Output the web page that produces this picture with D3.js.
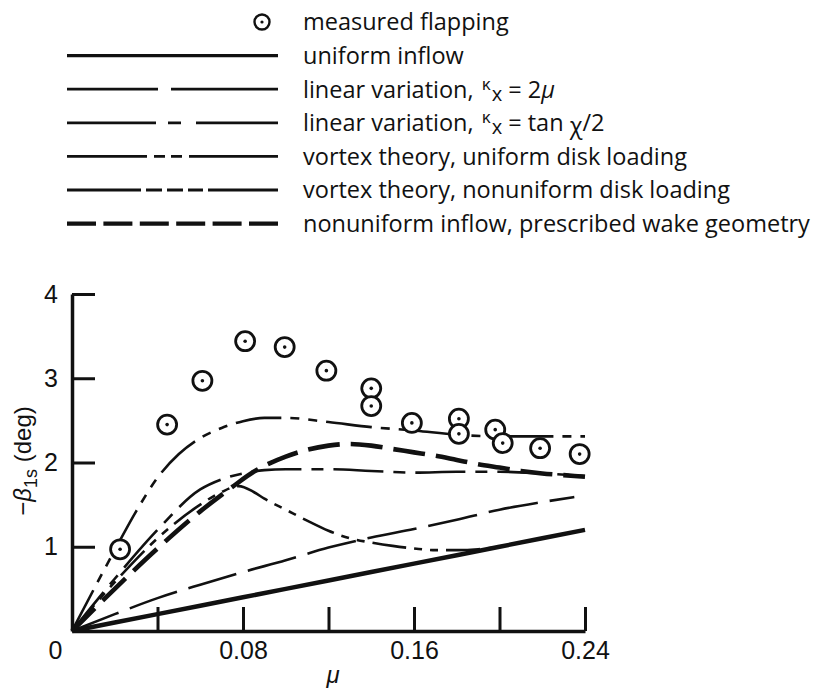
<!DOCTYPE html>
<html>
<head>
<meta charset="utf-8">
<script src="https://cdn.jsdelivr.net/npm/d3@7"></script>
<style>
  body { margin: 0; background: #fff; }
  svg { display: block; }
</style>
</head>
<body>
<svg id="chart" width="829" height="690"></svg>
<script>
// Axis ticks
const muTicks = [0, 0.04, 0.08, 0.12, 0.16, 0.20, 0.24];
const muTickLabels = ["0", "", "0.08", "", "0.16", "", "0.24"];
const betaTicks = [1, 2, 3, 4];
const betaTickLabels = ["1", "2", "3", "4"];

// Measured lateral flapping
const measuredMu   = [0.0225, 0.0445, 0.061, 0.081, 0.0995, 0.119, 0.140, 0.140, 0.159, 0.181, 0.181, 0.198, 0.2015, 0.219, 0.2375];
const measuredBeta = [0.97, 2.45, 2.97, 3.44, 3.37, 3.09, 2.88, 2.67, 2.47, 2.52, 2.34, 2.39, 2.23, 2.17, 2.10];

// Uniform inflow
const uniformMu   = [0, 0.04, 0.08, 0.12, 0.16, 0.20, 0.24];
const uniformBeta = [0, 0.20, 0.40, 0.60, 0.80, 1.00, 1.20];

// Linear variation, kx = 2 mu
const lin2muMu   = [0, 0.02, 0.04, 0.06, 0.08, 0.10, 0.12, 0.14, 0.16, 0.18, 0.20, 0.22, 0.235];
const lin2muBeta = [0, 0.20, 0.39, 0.55, 0.70, 0.84, 0.99, 1.11, 1.21, 1.32, 1.44, 1.53, 1.59];

// Linear variation, kx = tan(chi/2)
const linTanMu   = [0, 0.02, 0.03, 0.04, 0.05, 0.06, 0.07, 0.08, 0.09, 0.10, 0.12, 0.14, 0.16, 0.18, 0.20, 0.22, 0.24];
const linTanBeta = [0, 0.96, 1.42, 1.82, 2.10, 2.29, 2.41, 2.49, 2.53, 2.53, 2.48, 2.42, 2.38, 2.33, 2.31, 2.31, 2.31];

// Vortex theory, uniform disk loading
const vortUniMu   = [0, 0.02, 0.04, 0.06, 0.07, 0.078, 0.085, 0.09, 0.10, 0.11, 0.12, 0.13, 0.14, 0.15, 0.16, 0.17, 0.18, 0.19, 0.20];
const vortUniBeta = [0, 0.58, 1.10, 1.50, 1.65, 1.72, 1.65, 1.57, 1.44, 1.31, 1.19, 1.10, 1.05, 1.01, 0.98, 0.96, 0.96, 0.97, 1.00];

// Vortex theory, nonuniform disk loading
const vortNonMu   = [0, 0.02, 0.04, 0.06, 0.07, 0.08, 0.09, 0.10, 0.12, 0.14, 0.16, 0.18, 0.20, 0.22, 0.24];
const vortNonBeta = [0, 0.62, 1.20, 1.68, 1.80, 1.87, 1.91, 1.92, 1.92, 1.90, 1.88, 1.89, 1.89, 1.87, 1.84];

// Nonuniform inflow, prescribed wake geometry
const wakeMu   = [0, 0.02, 0.04, 0.06, 0.075, 0.085, 0.09, 0.10, 0.11, 0.12, 0.13, 0.14, 0.15, 0.16, 0.17, 0.18, 0.19, 0.20, 0.21, 0.22, 0.23, 0.24];
const wakeBeta = [0, 0.50, 0.98, 1.42, 1.71, 1.89, 1.96, 2.07, 2.15, 2.20, 2.22, 2.20, 2.16, 2.12, 2.08, 2.03, 1.98, 1.94, 1.90, 1.87, 1.85, 1.83];

// Legend wording (segments carry their typographic role)
const legendLabels = [
  [["measured flapping"]],
  [["uniform inflow"]],
  [["linear variation, "], ["κ", "kap"], ["x", "sub"], [" = 2"], ["μ", "it"]],
  [["linear variation, "], ["κ", "kap"], ["x", "sub"], [" = tan "], ["χ", "chi"], ["/2"]],
  [["vortex theory, uniform disk loading"]],
  [["vortex theory, nonuniform disk loading"]],
  [["nonuniform inflow, prescribed wake geometry"]]
];

const svg = d3.select("#chart");

const x = d3.scaleLinear().domain([0, 0.24]).range([72, 585]);
const y = d3.scaleLinear().domain([0, 4]).range([631, 294]);

const INK = "#111";
const tickFont = "'Liberation Sans', Arial, Helvetica, sans-serif";
const textFont = "'Open Sans', 'Liberation Sans', sans-serif";

// ---- curves ----
const lineGen = d3.line().x(d => x(d[0])).y(d => y(d[1])).curve(d3.curveMonotoneX);
const zip = (a, b) => a.map((v, i) => [v, b[i]]);

const curves = [
  { mu: uniformMu, beta: uniformBeta, width: 4.5, plotDash: null },
  { mu: lin2muMu,  beta: lin2muBeta,  width: 2.6, plotDash: "50,12" },
  { mu: linTanMu,  beta: linTanBeta,  width: 2.6, plotDash: "46,9,9,9,9,9" },
  { mu: vortUniMu, beta: vortUniBeta, width: 2.6, plotDash: "34,8,8,8,8,8" },
  { mu: vortNonMu, beta: vortNonBeta, width: 2.6, plotDash: "50,10,12,10" },
  { mu: wakeMu,    beta: wakeBeta,    width: 4.6, plotDash: "32,11" }
];

const plot = svg.append("g").attr("class", "curves");
curves.forEach(c => {
  plot.append("path")
    .datum(zip(c.mu, c.beta))
    .attr("d", lineGen)
    .attr("fill", "none")
    .attr("stroke", INK)
    .attr("stroke-width", c.width)
    .attr("stroke-dasharray", c.plotDash)
    .attr("stroke-linecap", "butt");
});

// ---- axes ----
const xAxis = d3.axisBottom(x)
  .tickValues(muTicks)
  .tickSizeInner(-24).tickSizeOuter(0).tickPadding(10)
  .tickFormat((d, i) => muTickLabels[i]);
const gx = svg.append("g").attr("transform", `translate(0,${y(0)})`).call(xAxis);

const yAxis = d3.axisLeft(y)
  .tickValues(betaTicks)
  .tickSizeInner(-23).tickSizeOuter(0).tickPadding(14)
  .tickFormat((d, i) => betaTickLabels[i]);
const gy = svg.append("g").attr("transform", `translate(${x(0)},0)`).call(yAxis);

[gx, gy].forEach(g => {
  g.attr("font-family", tickFont).attr("font-size", 25);
  g.select(".domain").attr("stroke", INK).attr("stroke-width", 3.5);
  g.selectAll(".tick line").attr("stroke", INK).attr("stroke-width", 3);
  g.selectAll(".tick text").attr("fill", INK);
});
gx.selectAll(".tick text").filter(d => d === 0).attr("dx", -17);

// axis titles
svg.append("text")
  .attr("x", 333).attr("y", 683)
  .attr("text-anchor", "middle")
  .attr("font-family", tickFont).attr("font-size", 24).attr("font-style", "italic")
  .attr("fill", INK)
  .text("μ");

const yTitle = svg.append("text")
  .attr("transform", "translate(31,461) rotate(-90)")
  .attr("text-anchor", "middle")
  .attr("font-family", tickFont).attr("font-size", 24)
  .attr("fill", INK);
yTitle.append("tspan").text("−");
yTitle.append("tspan").attr("font-style", "italic").text("β");
yTitle.append("tspan").attr("font-size", 18).attr("dy", 6).text("1s");
yTitle.append("tspan").attr("dy", -6).text(" (deg)");

// ---- measured points ----
const pts = svg.append("g").attr("class", "measured");
const measured = zip(measuredMu, measuredBeta);
pts.selectAll("circle.ring").data(measured).join("circle")
  .attr("class", "ring")
  .attr("cx", d => x(d[0])).attr("cy", d => y(d[1])).attr("r", 9.5)
  .attr("fill", "#fff").attr("stroke", INK).attr("stroke-width", 2.8);
pts.selectAll("circle.dot").data(measured).join("circle")
  .attr("class", "dot")
  .attr("cx", d => x(d[0])).attr("cy", d => y(d[1])).attr("r", 1.8)
  .attr("fill", INK);

// ---- legend ----
const legend = svg.append("g").attr("class", "legend");
const rowY = i => 22 + 33.6 * i;
const lx0 = 67, lx1 = 278, tx = 303;
const legendDash = [
  null,
  null,
  "91,13,107",
  "89,12,13,15,82",
  "80,7,11,6,11,7,89",
  "74,5,16,5,16,5,15,5,70",
  "29,7.4"
];
const legendWidth = [0, 3.2, 2.8, 2.8, 2.8, 2.8, 4.2];

legendLabels.forEach((segs, i) => {
  const yy = rowY(i);
  if (i === 0) {
    legend.append("circle").attr("cx", 262).attr("cy", yy).attr("r", 7.5)
      .attr("fill", "#fff").attr("stroke", INK).attr("stroke-width", 2.4);
    legend.append("circle").attr("cx", 262).attr("cy", yy).attr("r", 1.6).attr("fill", INK);
  } else {
    legend.append("line")
      .attr("x1", lx0).attr("x2", lx1).attr("y1", yy).attr("y2", yy)
      .attr("stroke", INK).attr("stroke-width", legendWidth[i])
      .attr("stroke-dasharray", legendDash[i]);
  }
  const t = legend.append("text")
    .attr("x", tx).attr("y", yy).attr("dy", "0.36em")
    .attr("font-family", textFont).attr("font-size", 23.5)
    .attr("fill", INK)
    .style("white-space", "pre");
  let shift = 0;
  segs.forEach(([s, role]) => {
    const sp = t.append("tspan").text(s);
    let target = 0;
    if (role === "kap") { sp.attr("font-size", 17).attr("dx", 2); target = -8; }
    else if (role === "sub") { sp.attr("font-size", 20).attr("dx", 1); target = 3; }
    else if (role === "it") { sp.attr("font-style", "italic"); }
    else if (role === "chi") { target = 3; }
    if (target !== shift) { sp.attr("dy", target - shift); shift = target; }
  });
});
</script>
</body>
</html>
